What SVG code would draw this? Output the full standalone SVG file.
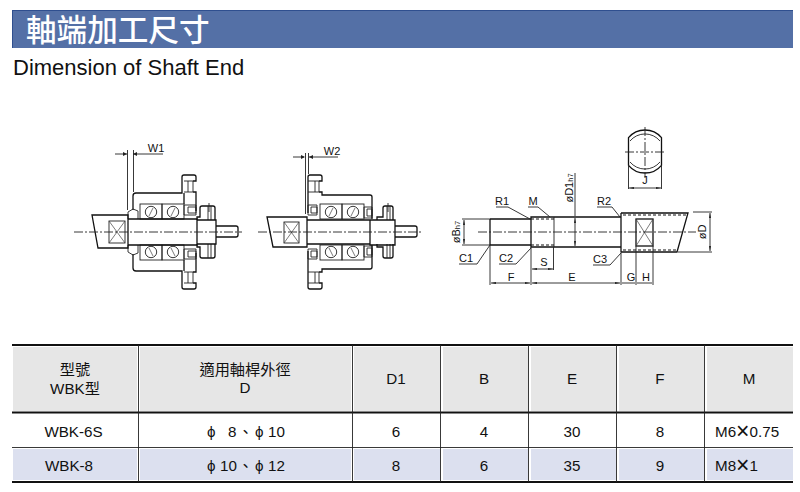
<svg xmlns="http://www.w3.org/2000/svg" xmlns:xlink="http://www.w3.org/1999/xlink" width="800" height="492" viewBox="0 0 800 492">
<style>
.l{fill:none;stroke:#222;stroke-width:.9}
.t{fill:none;stroke:#111;stroke-width:1.3}
.f{fill:none;stroke:#444;stroke-width:.7}
.d{fill:none;stroke:#111;stroke-width:1;stroke-dasharray:3 2}
.c{fill:none;stroke:#222;stroke-width:.9;stroke-dasharray:9 2 2 2}
text{font-family:"Liberation Sans","Noto Sans CJK TC",sans-serif;fill:#111}
.s{font-size:11px;text-anchor:middle}
.v{font-size:15.2px;text-anchor:middle}
.g{stroke:#111;stroke-width:1.8;fill:none}
.h{fill:#e6e6e6}.r{fill:#dce0ef}
.x{font-size:23px}
.u{font-size:7.5px}
</style>
<defs>
<marker id="a" viewBox="0 0 6 4" refX="6" refY="2" markerWidth="6" markerHeight="4" orient="auto-start-reverse"><path d="M0 .8L6 2L0 3.2z" fill="#222"/></marker>
<g id="bearings">
<rect class="l" x="140" y="204" width="22" height="15"/><rect class="l" x="162" y="204" width="22" height="15"/>
<circle class="l" cx="151" cy="212" r="5.7"/><circle class="l" cx="173" cy="212" r="5.7"/>
<path class="f" d="M149 216L153 208M171 216L175 208"/>
</g>
<g id="half1">
<path class="t" d="M133 210V196Q133 193 136 193H182V177Q182 175 184 175H194Q196 175 196 177V181H193M193 192H196V211M184 193V204"/>
<path class="l" d="M184 181H193V192H184M188 181V192"/>
<path class="l" d="M128 219V212L133 209L138 211V219"/>
<use xlink:href="#bearings"/>
<path class="l" d="M184 205H196V215H184zM188 207H196V213H188z"/>
<path class="t" d="M197 220V217H200V208Q200 206 202 206H213Q215 206 215 208V220"/>
<path class="l" d="M208 206V220M211 206V220"/>
</g>
<g id="half2">
<path class="t" d="M308 213V177Q308 175 310 175H320Q322 175 322 177V181H319M319 192H322V195H370Q372 195 372 197V219"/>
<path class="l" d="M308 181H319V192H308M315 181V192"/>
<path class="l" d="M308 205H317V215H308zM311 207H317V213H311z"/>
<use xlink:href="#bearings" x="180"/>
<path class="l" d="M364 207H372V218H364zM367 209H372V216H367z"/>
<path class="t" d="M377 220V217H383V208Q383 206 385 206H391Q393 206 393 208V220"/>
<path class="l" d="M387 206V220M390 206V220"/>
</g>
</defs>
<g id="header">
<rect x="12" y="10" width="781" height="38" fill="#5470a6"/>
<path d="M12 10.500H793M12.500 10V48" stroke="#2f4f8f" fill="none"/>
<text x="26" y="41" font-size="30.6" style="fill:#fff;font-family:'Noto Sans CJK TC','Liberation Sans',sans-serif;font-weight:500">軸端加工尺寸</text>
<text x="13" y="75" font-size="22">Dimension of Shaft End</text>
</g>
<g id="assembly-w1">
<use xlink:href="#half1"/>
<use xlink:href="#half1" transform="matrix(1 0 0 -1 0 464)"/>
<path class="t" d="M128 215H92L98 248H128zM128 219H197V245H128zM197 220H216V244H197zM216 226H236Q238 226 238 228V235Q238 237 236 237H216z"/>
<rect class="l" x="109" y="221" width="16" height="22"/><path class="f" d="M109 221L125 243M125 221L109 243"/>
<path class="c" d="M74 232H242"/>
<path class="c" d="M209 203V212"/>
<path class="l" d="M115 154H127M133 154H163M127.500 150V210M133.500 150V192"/>
<path d="M123 152L127 154L123 156zM137 152L133 154L137 156z" fill="#222"/>
<text class="s" x="156" y="152">W1</text>
</g>
<g id="assembly-w2">
<use xlink:href="#half2"/>
<use xlink:href="#half2" transform="matrix(1 0 0 -1 0 464)"/>
<path class="t" d="M307 217H267L273 247H307zM307 220H370V244H307zM370 220H395V245H370zM395 226H415Q417 226 417 228V235Q417 237 415 237H395z"/>
<rect class="l" x="284" y="222" width="15" height="21"/><path class="f" d="M284 222L299 243M299 222L284 243"/>
<path class="c" d="M258 232H422"/>
<path class="c" d="M388 203V212"/>
<path class="l" d="M293 157H304M309 157H338M305.500 153V214M308.500 153V174"/>
<path d="M301 155L305 157L301 159zM313 155L309 157L313 159z" fill="#222"/>
<text class="s" x="332" y="155">W2</text>
</g>
<g id="shaft-side">
<path class="t" d="M490 219H531V217H621M490 245H531V247H621M490 219V245M531 217V247M621 213V252"/>
<path class="l" d="M554 217V247"/>
<path class="d" d="M531 219H554M531 245H554M623 215H687M623 250H677"/>
<path class="t" d="M621 213H688L677 252H621"/>
<rect class="t" x="636" y="219" width="17" height="27"/><path class="f" d="M636 219L653 246M653 219L636 246"/>
<path class="c" d="M478 232H696"/>
</g>
<g id="shaft-end-view">
<path class="t" d="M628.500 137.700A21.500 21.500 0 0 1 661.500 137.700V165.300A21.500 21.500 0 0 1 628.500 165.300z"/>
<path class="l" d="M630 141A19.500 19.500 0 0 1 660 141M630 162A19.500 19.500 0 0 0 660 162"/>
<path class="c" d="M625 152H665M645 127V178"/>
</g>
<g id="dimensions">
<path class="l" d="M462 219H490M462 245H490M628.500 165V189M661.500 165V189M693 212H712M678 252H712M490 245V285M531 247V285M553.500 247V270M621 252V285M636 246V285M653 246V285M575 173V216"/>
<path class="l" marker-start="url(#a)" marker-end="url(#a)" d="M464 220V244"/>
<path class="l" marker-start="url(#a)" marker-end="url(#a)" d="M575 218V246"/>
<path class="l" marker-start="url(#a)" marker-end="url(#a)" d="M629 188H661"/>
<path class="l" marker-start="url(#a)" marker-end="url(#a)" d="M710 213V251"/>
<path class="l" marker-start="url(#a)" marker-end="url(#a)" d="M532 269H553"/>
<path class="l" marker-start="url(#a)" marker-end="url(#a)" d="M491 283H530"/>
<path class="l" marker-start="url(#a)" marker-end="url(#a)" d="M532 283H620"/>
<path class="l" d="M622 283H635M637 283H652"/>
<path class="l" d="M496 207H508L530 219M528 207H538L550 217M459 264H477L490 245M499 264H516L531 248M597 207H612L620 217M593 265H610L621 253"/>
<g class="s">
<text x="502" y="205">R1</text><text x="533" y="205">M</text><text x="466" y="262">C1</text><text x="506" y="262">C2</text><text x="544" y="266">S</text><text x="511" y="281">F</text><text x="572" y="281">E</text><text x="604" y="205">R2</text><text x="600" y="263">C3</text><text x="631" y="281">G</text><text x="646" y="281">H</text><text x="645" y="184">J</text>
<text transform="translate(460 232) rotate(-90)">øB<tspan class="u">h7</tspan></text>
<text transform="translate(573 188) rotate(-90)">øD1<tspan class="u">h7</tspan></text>
<text transform="translate(706 232) rotate(-90)">øD</text>
</g>
</g>
<g id="table">
<rect x="13" y="347" width="124" height="64" class="h"/><rect x="140" y="347" width="211" height="64" class="h"/><rect x="354" y="347" width="86" height="64" class="h"/><rect x="443" y="347" width="85" height="64" class="h"/><rect x="531" y="347" width="85" height="64" class="h"/><rect x="619" y="347" width="85" height="64" class="h"/><rect x="707" y="347" width="86" height="64" class="h"/>
<rect x="13" y="449" width="124" height="31" class="r"/><rect x="140" y="449" width="211" height="31" class="r"/><rect x="354" y="449" width="86" height="31" class="r"/><rect x="443" y="449" width="85" height="31" class="r"/><rect x="531" y="449" width="85" height="31" class="r"/><rect x="619" y="449" width="85" height="31" class="r"/><rect x="707" y="449" width="86" height="31" class="r"/>
<path class="g" d="M12 345H793M12 412.500H793M12 482H793"/>
<path class="l" d="M12 447.500H793M138.500 345V482M352.500 345V482M440.500 345V482M528.500 345V482M616.500 345V482M704.500 345V482"/>
<g class="v">
<text x="75" y="375">型號</text><text x="75" y="394">WBK型</text>
<text x="245" y="375">適用軸桿外徑</text><text x="245" y="393">D</text>
<text x="396" y="384">D1</text><text x="484" y="384">B</text><text x="572" y="384">E</text><text x="660" y="384">F</text><text x="749" y="384">M</text>
<text x="73.500" y="437">WBK-6S</text><text style="text-anchor:start" x="207" y="437">ϕ<tspan x="228">8</tspan><tspan x="238">、</tspan><tspan x="255">ϕ</tspan><tspan x="268">10</tspan></text><text x="396" y="437">6</text><text x="484" y="437">4</text><text x="572" y="437">30</text><text x="660" y="437">8</text><text style="text-anchor:start" x="715" y="437">M6<tspan class="x" dy="2">×</tspan><tspan dy="-2">0.75</tspan></text>
<text x="69" y="471">WBK-8</text><text style="text-anchor:start" x="207" y="471">ϕ<tspan x="220">10</tspan><tspan x="238">、</tspan><tspan x="255">ϕ</tspan><tspan x="268">12</tspan></text><text x="396" y="471">8</text><text x="484" y="471">6</text><text x="572" y="471">35</text><text x="660" y="471">9</text><text style="text-anchor:start" x="715" y="471">M8<tspan class="x" dy="2">×</tspan><tspan dy="-2">1</tspan></text>
</g>
</g>
</svg>
